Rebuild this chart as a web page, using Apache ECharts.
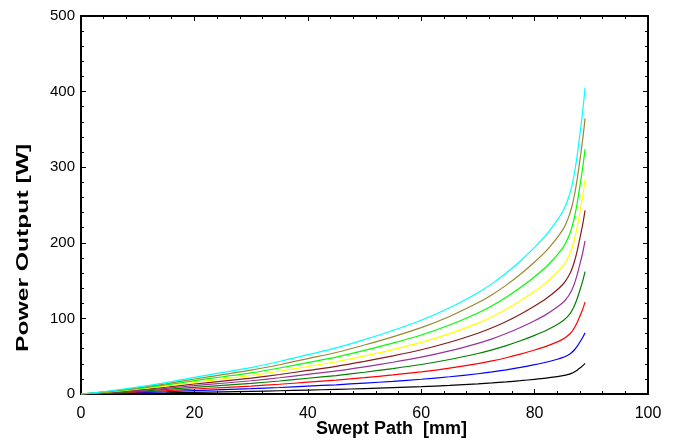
<!DOCTYPE html>
<html>
<head>
<meta charset="utf-8">
<script src="https://cdn.jsdelivr.net/npm/echarts@6/dist/echarts.min.js"></script>
<style>
html,body{margin:0;padding:0;background:#fff;}
#c{width:675px;height:446px;}
</style>
</head>
<body>
<div id="c"></div>
<script>
// Swept path positions [mm]
var sweptPath = [0, 5, 10, 15, 20, 25, 30, 35, 40, 45, 50, 55, 60, 65, 70, 72.5, 75, 77.5, 80, 82, 84, 85, 85.5, 86, 86.5, 87, 87.5, 88, 88.5, 88.9];

// Power output [W] for each curve
var curveBlack  = [0, 0.4, 0.9, 1.5, 2.2, 2.85, 3.5, 4.3, 5.2, 6.1, 7.2, 8.4, 9.75, 11.4, 13.4, 14.6, 16, 17.6, 19.4, 21, 23, 24.2, 25, 26, 27.3, 29.1, 31.5, 34.4, 37.5, 40.5];
var curveBlue   = [0, 0.8, 1.8, 3, 4.4, 5.7, 7, 8.6, 10.4, 12.2, 14.4, 16.8, 19.5, 22.8, 26.8, 29.2, 32, 35.2, 38.8, 42, 46, 48.4, 50, 52, 54.6, 58.2, 63, 68.8, 75, 81];
var curveRed    = [0, 1.2, 2.7, 4.5, 6.6, 8.55, 10.5, 12.9, 15.6, 18.3, 21.6, 25.2, 29.25, 34.2, 40.2, 43.8, 48, 52.8, 58.2, 63, 69, 72.6, 75, 78, 81.9, 87.3, 94.5, 103.2, 112.5, 121.5];
var curveGreen  = [0, 1.6, 3.6, 6, 8.8, 11.4, 14, 17.2, 20.8, 24.4, 28.8, 33.6, 39, 45.6, 53.6, 58.4, 64, 70.4, 77.6, 84, 92, 96.8, 100, 104, 109.2, 116.4, 126, 137.6, 150, 162];
var curvePurple = [0, 2, 4.5, 7.5, 11, 14.25, 17.5, 21.5, 26, 30.5, 36, 42, 48.75, 57, 67, 73, 80, 88, 97, 105, 115, 121, 125, 130, 136.5, 145.5, 157.5, 172, 187.5, 202.5];
var curveMaroon = [0, 2.4, 5.4, 9, 13.2, 17.1, 21, 25.8, 31.2, 36.6, 43.2, 50.4, 58.5, 68.4, 80.4, 87.6, 96, 105.6, 116.4, 126, 138, 145.2, 150, 156, 163.8, 174.6, 189, 206.4, 225, 243];
var curveYellow = [0, 2.8, 6.3, 10.5, 15.4, 19.95, 24.5, 30.1, 36.4, 42.7, 50.4, 58.8, 68.25, 79.8, 93.8, 102.2, 112, 123.2, 135.8, 147, 161, 169.4, 175, 182, 191.1, 203.7, 220.5, 240.8, 262.5, 283.5];
var curveLime   = [0, 3.2, 7.2, 12, 17.6, 22.8, 28, 34.4, 41.6, 48.8, 57.6, 67.2, 78, 91.2, 107.2, 116.8, 128, 140.8, 155.2, 168, 184, 193.6, 200, 208, 218.4, 232.8, 252, 275.2, 300, 324];
var curveOlive  = [0, 3.6, 8.1, 13.5, 19.8, 25.65, 31.5, 38.7, 46.8, 54.9, 64.8, 75.6, 87.75, 102.6, 120.6, 131.4, 144, 158.4, 174.6, 189, 207, 217.8, 225, 234, 245.7, 261.9, 283.5, 309.6, 337.5, 364.5];
var curveCyan   = [0, 4, 9, 15, 22, 28.5, 35, 43, 52, 61, 72, 84, 97.5, 114, 134, 146, 160, 176, 194, 210, 230, 242, 250, 260, 273, 291, 315, 344, 375, 405];

var curves = [curveBlack, curveBlue, curveRed, curveGreen, curvePurple, curveMaroon, curveYellow, curveLime, curveOlive, curveCyan];
var curveColors = ['#000000', '#0000ff', '#ff0000', '#008000', '#993399', '#8b1a1a', '#ffff00', '#00ff00', '#998833', '#00ffff'];

var xTickLabels = ['0', '20', '40', '60', '80', '100'];
var yTickLabels = ['0', '100', '200', '300', '400', '500'];

var FONT = '"Liberation Sans", Arial, sans-serif';

var series = curves.map(function (vals, i) {
  return {
    type: 'line',
    data: sweptPath.map(function (x, j) { return [x, vals[j]]; }),
    showSymbol: false,
    smooth: 0.25,
    lineStyle: { color: curveColors[i], width: 1.2 },
    itemStyle: { color: curveColors[i] },
    xAxisIndex: 0,
    yAxisIndex: 0,
    animation: false
  };
});

var axisCommon = {
  axisLine: { show: true, onZero: false, lineStyle: { color: '#000', width: 2 } },
  axisTick: { show: true, inside: true, length: 5, lineStyle: { color: '#000', width: 1 } },
  minorTick: { show: true, splitNumber: 5, length: 3, lineStyle: { color: '#000', width: 1 } },
  splitLine: { show: false }
};

function mk(base, extra) {
  var o = JSON.parse(JSON.stringify(base));
  for (var k in extra) o[k] = extra[k];
  return o;
}

var chart = echarts.init(document.getElementById('c'), null, { renderer: 'canvas' });
chart.setOption({
  backgroundColor: '#ffffff',
  animation: false,
  grid: { left: 81, right: 27, top: 16, bottom: 52, containLabel: false },
  xAxis: [
    mk(axisCommon, {
      type: 'value', min: 0, max: 100, interval: 20, position: 'bottom',
      axisLabel: { show: true, color: '#000', fontSize: 16, fontFamily: FONT, margin: 12,
        formatter: function (v) { return xTickLabels[Math.round(v / 20)]; } }
    }),
    mk(axisCommon, {
      type: 'value', min: 0, max: 100, interval: 20, position: 'top',
      axisLabel: { show: false }
    })
  ],
  yAxis: [
    mk(axisCommon, {
      type: 'value', min: 0, max: 500, interval: 100, position: 'left',
      axisLabel: { show: true, color: '#000', fontSize: 15, fontFamily: FONT, margin: 6,
        formatter: function (v) { return yTickLabels[Math.round(v / 100)]; } }
    }),
    mk(axisCommon, {
      type: 'value', min: 0, max: 500, interval: 100, position: 'right',
      axisLabel: { show: false }
    })
  ],
  graphic: [
    {
      type: 'text', left: 316, top: 420,
      style: { text: 'Swept Path  [mm]', fill: '#000', font: 'bold 18px ' + FONT }
    },
    {
      type: 'text', x: 15, y: 352, rotation: Math.PI / 2, scaleX: 1.45,
      style: { text: 'Power Output [W]', fill: '#000', font: 'bold 17px ' + FONT, textBaseline: 'top' }
    }
  ],
  series: series
});
</script>
</body>
</html>
